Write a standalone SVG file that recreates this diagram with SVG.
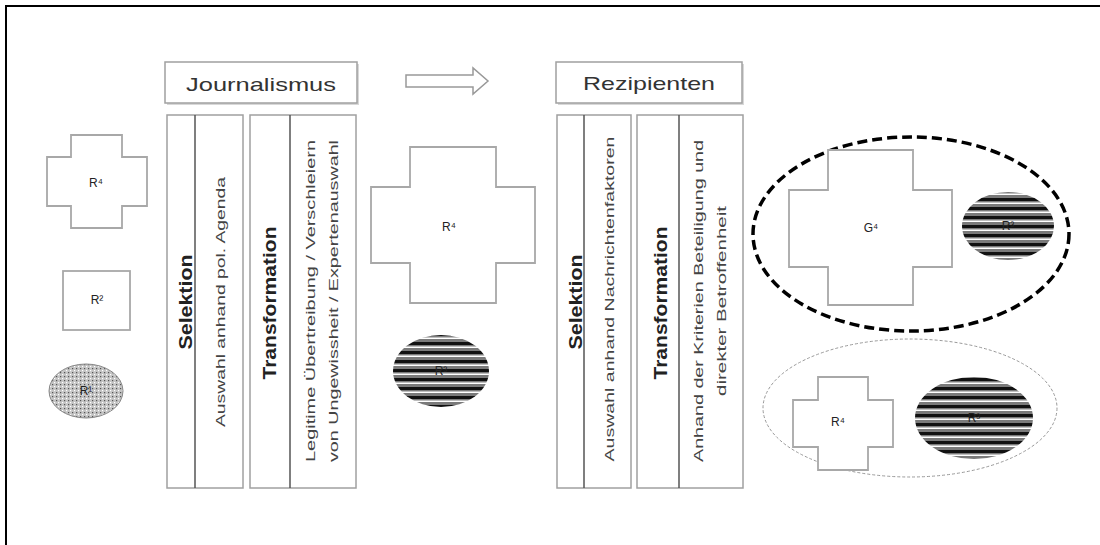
<svg xmlns="http://www.w3.org/2000/svg" width="1100" height="545" viewBox="0 0 1100 545">
<style>
.box{fill:#fff;stroke:#a0a0a0;stroke-width:1.5}
.shadow{fill:#d8d8d8}
.div{stroke:#555;stroke-width:1.5}
.cross{fill:#fff;stroke:#a8a8a8;stroke-width:1.8}
.hdr{font-family:"Liberation Sans",Arial,sans-serif;font-size:19px;fill:#333;text-anchor:middle}
.bold{font-family:"Liberation Sans",Arial,sans-serif;font-size:18px;font-weight:bold;fill:#222;text-anchor:middle;dominant-baseline:central}
.sm{font-family:"Liberation Sans",Arial,sans-serif;font-size:13px;fill:#444;text-anchor:middle;dominant-baseline:central}
.lbl{font-family:"Liberation Sans",Arial,sans-serif;font-size:12px;fill:#222;text-anchor:middle;dominant-baseline:central}
</style>
<defs>
<pattern id="stripes" width="10" height="9" patternUnits="userSpaceOnUse">
<rect width="10" height="9" fill="#7a7a7a"/>
<rect y="0" width="10" height="3" fill="#111"/>
<rect y="4.5" width="10" height="1.5" fill="#fff"/>
</pattern>
<pattern id="dots" width="4" height="4" patternUnits="userSpaceOnUse">
<rect width="4" height="4" fill="#c4c4c4"/>
<rect x="0" y="0" width="1.2" height="1.2" fill="#555"/>
<rect x="2" y="2" width="1.2" height="1.2" fill="#fff"/>
</pattern>
</defs>
<rect x="0" y="0" width="1100" height="545" fill="#fff"/>
<rect x="6" y="6" width="1100" height="545" fill="none" stroke="#000" stroke-width="2"/>

<g id="journalismus">
<rect class="shadow" x="167" y="64" width="192" height="41"/>
<rect class="box" x="165" y="62" width="192" height="41"/>
<text class="hdr" x="261" y="91" textLength="150" lengthAdjust="spacingAndGlyphs">Journalismus</text>
</g>
<g id="j-selektion">
<rect class="box" x="167" y="115" width="76" height="373"/>
<line class="div" x1="195" y1="115" x2="195" y2="488"/>
<text class="bold" transform="translate(186,302) rotate(-90)" textLength="95" lengthAdjust="spacingAndGlyphs">Selektion</text>
<text class="sm" transform="translate(220,302) rotate(-90)" textLength="250" lengthAdjust="spacingAndGlyphs">Auswahl anhand pol. Agenda</text>
</g>
<g id="j-transformation">
<rect class="box" x="250" y="115" width="106" height="373"/>
<line class="div" x1="290" y1="115" x2="290" y2="488"/>
<text class="bold" transform="translate(270,303) rotate(-90)" textLength="153" lengthAdjust="spacingAndGlyphs">Transformation</text>
<text class="sm" transform="translate(310,301) rotate(-90)" textLength="322" lengthAdjust="spacingAndGlyphs">Legitime Übertreibung / Verschleiern</text>
<text class="sm" transform="translate(333,301) rotate(-90)" textLength="322" lengthAdjust="spacingAndGlyphs">von Ungewissheit / Expertenauswahl</text>
</g>

<g id="rezipienten">
<rect class="shadow" x="558" y="64" width="186" height="41"/>
<rect class="box" x="556" y="62" width="186" height="41"/>
<text class="hdr" x="649" y="90" textLength="132" lengthAdjust="spacingAndGlyphs">Rezipienten</text>
</g>
<g id="r-selektion">
<rect class="box" x="557" y="115" width="74" height="373"/>
<line class="div" x1="584" y1="115" x2="584" y2="488"/>
<text class="bold" transform="translate(576,302) rotate(-90)" textLength="95" lengthAdjust="spacingAndGlyphs">Selektion</text>
<text class="sm" transform="translate(609,299) rotate(-90)" textLength="325" lengthAdjust="spacingAndGlyphs">Auswahl anhand Nachrichtenfaktoren</text>
</g>
<g id="r-transformation">
<rect class="box" x="637" y="115" width="106" height="373"/>
<line class="div" x1="679" y1="115" x2="679" y2="488"/>
<text class="bold" transform="translate(661,303) rotate(-90)" textLength="153" lengthAdjust="spacingAndGlyphs">Transformation</text>
<text class="sm" transform="translate(698,301) rotate(-90)" textLength="322" lengthAdjust="spacingAndGlyphs">Anhand der Kriterien Beteiligung und</text>
<text class="sm" transform="translate(721,301) rotate(-90)" textLength="190" lengthAdjust="spacingAndGlyphs">direkter Betroffenheit</text>
</g>

<g id="connectors">
<polygon points="406,75 473,75 473,68 488,81 473,94 473,87 406,87" fill="#fff" stroke="#999" stroke-width="1.5"/>
</g>

<g id="left-r4">
<polygon class="cross" points="71,135 122,135 122,157 147,157 147,206 122,206 122,228 71,228 71,206 47,206 47,157 71,157"/>
<text class="lbl" x="96" y="183">R⁴</text>
</g>
<g id="left-r2">
<rect class="cross" x="63" y="271" width="67" height="59"/>
<text class="lbl" x="97" y="300">R²</text>
</g>
<g id="left-r1">
<ellipse cx="86" cy="391" rx="37" ry="27" fill="url(#dots)" stroke="#888" stroke-width="1"/>
<text class="lbl" x="86" y="391">R¹</text>
</g>

<g id="mid-r4">
<polygon class="cross" points="410,147 496,147 496,187 535,187 535,263 496,263 496,303 410,303 410,263 371,263 371,187 410,187"/>
<text class="lbl" x="449" y="227">R⁴</text>
</g>
<g id="mid-r3">
<ellipse cx="441" cy="371" rx="48" ry="36" fill="url(#stripes)"/>
<text class="lbl" x="441" y="371">R³</text>
</g>

<g id="group-top">
<ellipse cx="911" cy="234" rx="158" ry="97" fill="none" stroke="#000" stroke-width="3.5" stroke-dasharray="10 5"/>
<polygon class="cross" points="828,150 913,150 913,190 952,190 952,267 913,267 913,305 828,305 828,267 789,267 789,190 828,190"/>
<text class="lbl" x="871" y="228">G⁴</text>
<ellipse cx="1008" cy="226" rx="46" ry="34" fill="url(#stripes)"/>
<text class="lbl" x="1008" y="226">R³</text>
</g>

<g id="group-bottom">
<ellipse cx="910" cy="408" rx="147" ry="69" fill="none" stroke="#999" stroke-width="1" stroke-dasharray="3 2"/>
<polygon class="cross" points="818,377 868,377 868,400 893,400 893,447 868,447 868,470 818,470 818,447 793,447 793,400 818,400"/>
<text class="lbl" x="838" y="422">R⁴</text>
<ellipse cx="974" cy="418" rx="59" ry="41" fill="url(#stripes)"/>
<text class="lbl" x="974" y="418">R³</text>
</g>
</svg>
